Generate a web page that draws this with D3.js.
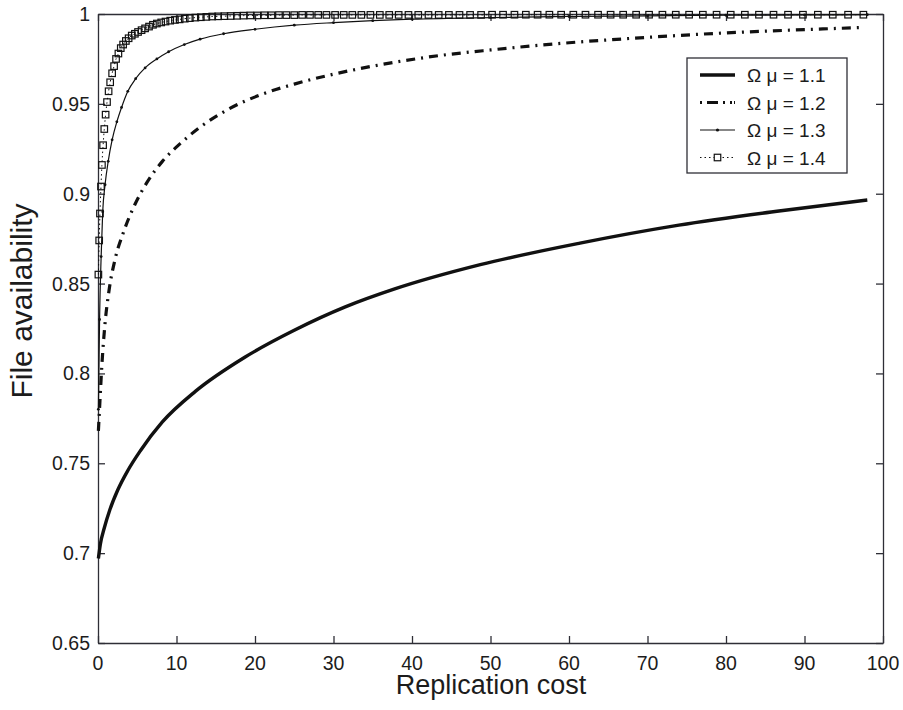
<!DOCTYPE html>
<html>
<head>
<meta charset="utf-8">
<script src="https://cdnjs.cloudflare.com/ajax/libs/d3/7.8.5/d3.min.js"></script>
<style>
  html, body { margin: 0; padding: 0; background: #fff; overflow: hidden; }
  svg { display: block; }
  text { font-family: "Liberation Sans", Arial, sans-serif; }
</style>
</head>
<body>
<div id="plot"></div>
<script>
// chart values

  const costTicks = [0, 10, 20, 30, 40, 50, 60, 70, 80, 90, 100];
  const costLabels = ["0", "10", "20", "30", "40", "50", "60", "70", "80", "90", "100"];
  const availTicks = [0.65, 0.7, 0.75, 0.8, 0.85, 0.9, 0.95, 1];
  const availLabels = ["0.65", "0.7", "0.75", "0.8", "0.85", "0.9", "0.95", "1"];

  const seriesNames = ["Ω μ = 1.1", "Ω μ = 1.2", "Ω μ = 1.3", "Ω μ = 1.4"];

  const cost11 = [0.05, 0.3, 0.8, 1.5, 2.5, 3.8, 5.4, 8.2, 12.4, 18.7, 25, 31.5, 37.8, 48.7, 61.4, 74, 87, 98];
  const avail11 = [0.697, 0.705, 0.714, 0.724, 0.735, 0.746, 0.757, 0.773, 0.790, 0.809, 0.824, 0.837, 0.847, 0.8605, 0.8725, 0.8825, 0.8905, 0.8965];

  const cost12 = [0.05, 0.25, 0.5, 0.9, 1.4, 2.2, 3.2, 4.7, 6.2, 8.2, 10.5, 13, 16.6, 21, 25, 30, 35, 42, 50, 60, 70, 80, 90, 97.5];
  const avail12 = [0.768, 0.785, 0.805, 0.828, 0.846, 0.864, 0.878, 0.894, 0.906, 0.918, 0.928, 0.937, 0.947, 0.9555, 0.961, 0.9665, 0.971, 0.976, 0.980, 0.984, 0.987, 0.9895, 0.9913, 0.9925];

  const cost13 = [0.05, 0.2, 0.4, 0.6, 0.9, 1.3, 1.8, 2.4, 3.0, 3.8, 4.8, 6.0, 7.5, 9.0, 11, 13, 16, 20, 25, 30, 35, 40, 50, 60, 70, 80, 90, 98];
  const avail13 = [0.78, 0.83, 0.865, 0.89, 0.905, 0.918, 0.93, 0.94, 0.948, 0.957, 0.964, 0.970, 0.975, 0.979, 0.983, 0.986, 0.989, 0.9915, 0.9938, 0.9952, 0.9963, 0.9971, 0.998, 0.9986, 0.999, 0.9993, 0.9995, 0.9996];

  const cost14 = [0.05, 0.15, 0.25, 0.38, 0.5, 0.65, 0.8, 0.97, 1.15, 1.35,
                  1.55, 1.8, 2.05, 2.3, 2.6, 2.9, 3.2, 3.55, 3.9, 4.3,
                  4.7, 5.1, 5.55, 6.0, 6.5, 7.0, 7.5, 8.05, 8.6, 9.2,
                  9.8, 10.4, 11.05, 11.7, 12.4, 13.1, 13.8, 14.55, 15.3, 16.1,
                  16.9, 17.7, 18.55, 19.4, 20.3, 21.2, 22.1, 23.05, 24.0, 25.0,
                  26.0, 27.0, 28.05, 29.1, 30.2, 31.3, 32.4, 33.55, 34.7, 35.9,
                  37.1, 38.3, 39.55, 40.8, 42.1, 43.4, 44.7, 46.05, 47.4, 48.8,
                  50.2, 51.6, 53.05, 54.5, 56.0, 57.5, 59.0, 60.55, 62.1, 63.7,
                  65.3, 66.9, 68.55, 70.2, 71.9, 73.6, 75.3, 77.05, 78.8, 80.6,
                  82.4, 84.2, 86.05, 87.9, 89.8, 91.7, 93.6, 95.55, 97.5];
  const avail14 = [0.855, 0.874, 0.889, 0.904, 0.916, 0.927, 0.936, 0.944, 0.951, 0.957,
                   0.962, 0.967, 0.971, 0.975, 0.978, 0.981, 0.983, 0.985, 0.9865, 0.988,
                   0.989, 0.990, 0.991, 0.992, 0.993, 0.994, 0.9947, 0.9953, 0.9958, 0.9963,
                   0.9967, 0.997, 0.9974, 0.9977, 0.998, 0.9982, 0.9984, 0.9986, 0.9987, 0.9988,
                   0.9989, 0.999, 0.9991, 0.9992, 0.9992, 0.9993, 0.9993, 0.9994, 0.9994, 0.9994,
                   0.9995, 0.9995, 0.9995, 0.9995, 0.9995, 0.9995, 0.9995, 0.9995, 0.9995, 0.9995,
                   0.9995, 0.9995, 0.9995, 0.9995, 0.9995, 0.9995, 0.9995, 0.9995, 0.9995, 0.9995,
                   0.9996, 0.9996, 0.9996, 0.9996, 0.9996, 0.9996, 0.9996, 0.9996, 0.9996, 0.9996,
                   0.9996, 0.9996, 0.9996, 0.9996, 0.9996, 0.9996, 0.9996, 0.9996, 0.9996, 0.9996,
                   0.9996, 0.9996, 0.9996, 0.9996, 0.9996, 0.9996, 0.9996, 0.9996, 0.9996];

  const w = 903;
  const h = 710;
  const margin = {top: 14, right: 20, bottom: 67, left: 98};
  const innerWidth = w - margin.left - margin.right;
  const innerHeight = h - margin.top - margin.bottom;

  const ink = "#111";
  const axisInk = "#2e2e36";
  const textInk = "#1c1c1c";

  const xScale = d3.scaleLinear()
      .domain([0, 100])
      .range([margin.left, margin.left + innerWidth]);

  const yScale = d3.scaleLinear()
      .domain([0.65, 1])
      .range([margin.top + innerHeight, margin.top]);

  const svg = d3.select("#plot")
    .append("svg")
      .attr("width", w)
      .attr("height", h);

  svg.append("rect")
      .attr("width", w)
      .attr("height", h)
      .attr("fill", "#fff");

// axes: box with inward ticks on all four sides

  const tickLen = 7;
  const x0 = xScale(0), x1 = xScale(100);
  const y0 = yScale(0.65), y1 = yScale(1);

  const axes = [
    svg.append("g").attr("transform", `translate(0, ${y0})`)
      .call(d3.axisBottom(xScale).tickValues(costTicks).tickFormat("")
        .tickSizeInner(-tickLen).tickSizeOuter(0)),
    svg.append("g").attr("transform", `translate(0, ${y1})`)
      .call(d3.axisTop(xScale).tickValues(costTicks).tickFormat("")
        .tickSizeInner(-tickLen).tickSizeOuter(0)),
    svg.append("g").attr("transform", `translate(${x0}, 0)`)
      .call(d3.axisLeft(yScale).tickValues(availTicks).tickFormat("")
        .tickSizeInner(-tickLen).tickSizeOuter(0)),
    svg.append("g").attr("transform", `translate(${x1}, 0)`)
      .call(d3.axisRight(yScale).tickValues(availTicks).tickFormat("")
        .tickSizeInner(-tickLen).tickSizeOuter(0))
  ];

  axes.forEach(a => {
    a.selectAll("text").remove();
    a.selectAll("path, line").attr("stroke", axisInk).attr("stroke-width", 1.3);
  });

// tick labels

  svg.append("g")
    .selectAll("text")
      .data(costTicks)
    .enter().append("text")
      .attr("x", d => xScale(d))
      .attr("y", y0 + 27)
      .attr("text-anchor", "middle")
      .attr("fill", textInk)
      .style("font-size", "19.5px")
      .text((d, i) => costLabels[i]);

  svg.append("g")
    .selectAll("text")
      .data(availTicks)
    .enter().append("text")
      .attr("x", x0 - 8)
      .attr("y", d => yScale(d) + 7)
      .attr("text-anchor", "end")
      .attr("fill", textInk)
      .style("font-size", "19.5px")
      .text((d, i) => availLabels[i]);

// curves

  const line = d3.line()
      .x(d => xScale(d[0]))
      .y(d => yScale(d[1]))
      .curve(d3.curveMonotoneX);

  const pts11 = cost11.map((c, i) => [c, avail11[i]]);
  const pts12 = cost12.map((c, i) => [c, avail12[i]]);
  const pts13 = cost13.map((c, i) => [c, avail13[i]]);
  const pts14 = cost14.map((c, i) => [c, avail14[i]]);

  const styles = [
    {width: 3.4, dash: null},
    {width: 3.2, dash: "9,6,2,6"},
    {width: 1.2, dash: null},
    {width: 1, dash: "1.5,3"}
  ];

  [pts11, pts12, pts13, pts14].forEach((pts, i) => {
    svg.append("path")
        .datum(pts)
        .attr("d", line)
        .attr("fill", "none")
        .attr("stroke", ink)
        .attr("stroke-width", styles[i].width)
        .attr("stroke-dasharray", styles[i].dash);
  });

  svg.append("g")
    .selectAll("circle")
      .data(pts13)
    .enter().append("circle")
      .attr("cx", d => xScale(d[0]))
      .attr("cy", d => yScale(d[1]))
      .attr("r", 1.4)
      .attr("fill", ink);

  const sq = 6.5;
  svg.append("g")
    .selectAll("rect")
      .data(pts14)
    .enter().append("rect")
      .attr("x", d => xScale(d[0]) - sq / 2)
      .attr("y", d => yScale(d[1]) - sq / 2)
      .attr("width", sq)
      .attr("height", sq)
      .attr("fill", "none")
      .attr("stroke", ink)
      .attr("stroke-width", 1.2);

// axis titles

  svg.append("text")
      .attr("x", 491)
      .attr("y", 694)
      .attr("text-anchor", "middle")
      .attr("fill", textInk)
      .style("font-size", "27px")
      .text("Replication cost");

  svg.append("text")
      .attr("transform", "translate(32, 301) rotate(-90)")
      .attr("text-anchor", "middle")
      .attr("fill", textInk)
      .style("font-size", "30px")
      .text("File availability");

// legend

  const legend = svg.append("g")
      .attr("transform", "translate(687, 58)");

  legend.append("rect")
      .attr("width", 160)
      .attr("height", 115)
      .attr("fill", "#fff")
      .attr("stroke", axisInk)
      .attr("stroke-width", 1.3);

  const rows = legend.selectAll("g.row")
      .data(seriesNames)
    .enter().append("g")
      .attr("class", "row")
      .attr("transform", (d, i) => `translate(0, ${17 + i * 27.5})`);

  rows.append("line")
      .attr("x1", 13)
      .attr("x2", 48)
      .attr("stroke", ink)
      .attr("stroke-width", (d, i) => styles[i].width)
      .attr("stroke-dasharray", (d, i) => i === 1 ? "2,5,11,5,2,5,2" : styles[i].dash);

  rows.filter((d, i) => i === 2).append("circle")
      .attr("cx", 30.5)
      .attr("r", 1.6)
      .attr("fill", ink);

  rows.filter((d, i) => i === 3).append("rect")
      .attr("x", 30.5 - sq / 2)
      .attr("y", -sq / 2)
      .attr("width", sq)
      .attr("height", sq)
      .attr("fill", "#fff")
      .attr("stroke", ink)
      .attr("stroke-width", 1.2);

  rows.append("text")
      .attr("x", 60)
      .attr("y", 7)
      .attr("fill", textInk)
      .style("font-size", "19px")
      .text(d => d);
</script>
</body>
</html>
